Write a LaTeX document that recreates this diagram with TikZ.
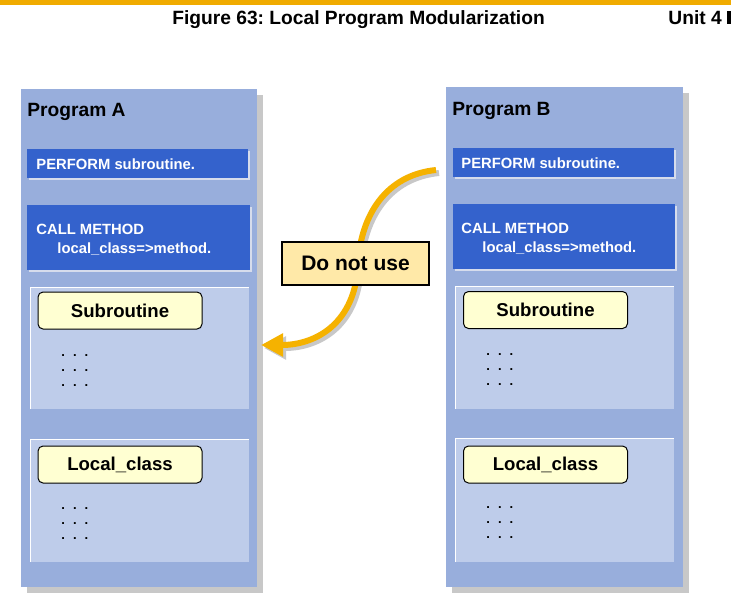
\documentclass[tikz,border=0pt]{standalone}
\usepackage{fontspec}
\setmainfont{Liberation Sans}
\usetikzlibrary{arrows.meta}
\definecolor{progbar}{RGB}{240,171,0}
\definecolor{progorange}{RGB}{245,178,0}
\definecolor{progpanel}{RGB}{152,174,220}
\definecolor{progsection}{RGB}{190,204,234}
\definecolor{progblue}{RGB}{52,98,204}
\definecolor{progedge}{RGB}{214,220,236}
\definecolor{progyellow}{RGB}{255,255,210}
\definecolor{proglabel}{RGB}{255,233,168}
\definecolor{progshadow}{RGB}{200,200,200}
\frenchspacing
\newcommand{\progdots}{.\hspace{4pt}.\hspace{4pt}.}

\begin{document}
\begin{tikzpicture}[x=0.5pt,y=-0.5pt,
  headtext/.style={anchor=base west,inner sep=0pt,font=\fontsize{9.6}{11}\selectfont\bfseries},
  codetext/.style={anchor=base west,inner sep=0pt,text=white,font=\fontsize{7.4}{9}\selectfont\bfseries},
  namebox/.style={draw=black,line width=0.5pt,fill=progyellow,rounded corners=2.5pt,
    minimum width=82pt,minimum height=18.5pt,inner sep=0pt,font=\fontsize{9.3}{11}\selectfont\bfseries},
  dotstext/.style={anchor=north west,inner sep=0pt,align=left,font=\fontsize{6.5}{7.5}\selectfont\bfseries},
  warnbox/.style={draw=black,line width=0.6pt,fill=proglabel,minimum width=73.5pt,
    minimum height=21.5pt,inner sep=0pt,font=\fontsize{10.5}{12}\selectfont\bfseries},
  sectionedge/.style={draw=white,line width=0.5pt}
]
\useasboundingbox[fill=white] (0,0) rectangle (731,611);

% Page header
\fill[progbar] (0,0) rectangle (731,5);
\node[headtext] (figtitle) at (172,24) {Figure 63: Local Program Modularization};
\node[headtext] (unit) at (668,24) {Unit 4};
\fill (727,11) rectangle (731,24);

% Program A
\fill[progshadow] (27,95) rectangle (263,593);
\fill[progpanel] (21,89) rectangle (257,587);
\node[headtext] (progA) at (27,116) {Program A};

\fill[progedge] (29,151) rectangle (250,180);
\fill[progblue] (27,149) rectangle (248,178);
\node[codetext] (performA) at (36,169) {PERFORM subroutine.};

\fill[progedge] (29,207) rectangle (252,272);
\fill[progblue] (27,205) rectangle (250,270);
\node[codetext] (callA) at (36,234) {CALL METHOD};
\node[codetext] (methodA) at (57,253) {local\_class=>method.};

\fill[progsection] (30,287) rectangle (249,409);
\draw[sectionedge] (30,409) |- (249,287);
\node[namebox] (subA) at (120,310.5) {Subroutine};
\node[dotstext] (subdotsA) at (61,354) {\progdots\\\progdots\\\progdots};

\fill[progsection] (30,439) rectangle (249,562);
\draw[sectionedge] (30,562) |- (249,439);
\node[namebox] (classA) at (120,464.5) {Local\_class};
\node[dotstext] (classdotsA) at (61,507) {\progdots\\\progdots\\\progdots};

% Program B
\fill[progshadow] (452,93) rectangle (689,593);
\fill[progpanel] (446,87) rectangle (683,587);
\node[headtext] (progB) at (452,115) {Program B};

\fill[progedge] (455,150) rectangle (676,179);
\fill[progblue] (453,148) rectangle (674,177);
\node[codetext] (performB) at (461,168) {PERFORM subroutine.};

\fill[progedge] (455,206) rectangle (677,271);
\fill[progblue] (453,204) rectangle (675,269);
\node[codetext] (callB) at (461,233) {CALL METHOD};
\node[codetext] (methodB) at (482,252) {local\_class=>method.};

\fill[progsection] (455,286) rectangle (674,409);
\draw[sectionedge] (455,409) |- (674,286);
\node[namebox] (subB) at (545.5,310) {Subroutine};
\node[dotstext] (subdotsB) at (486,353) {\progdots\\\progdots\\\progdots};

\fill[progsection] (455,438) rectangle (674,562);
\draw[sectionedge] (455,562) |- (674,438);
\node[namebox] (classB) at (545.5,464.5) {Local\_class};
\node[dotstext] (classdotsB) at (486,506) {\progdots\\\progdots\\\progdots};

% Do not use arrow
\coordinate (dnuS) at (436,170);
\coordinate (dnuM) at (358,263);
\coordinate (dnuE) at (261,345);
\draw[progshadow,line width=3pt,-{Triangle[length=11pt,width=11pt]},
  transform canvas={xshift=1.5pt,yshift=-1.5pt}]
  (dnuS) .. controls +(-50,5) and +(3,-48) .. (dnuM)
  .. controls +(-2,60) and +(55,0) .. (dnuE);
\draw[progorange,line width=3pt,-{Triangle[length=11pt,width=11pt]}]
  (dnuS) .. controls +(-50,5) and +(3,-48) .. (dnuM)
  .. controls +(-2,60) and +(55,0) .. (dnuE);
\node[warnbox] (dnu) at (355.5,263.5) {Do not use};
\end{tikzpicture}
\end{document}
